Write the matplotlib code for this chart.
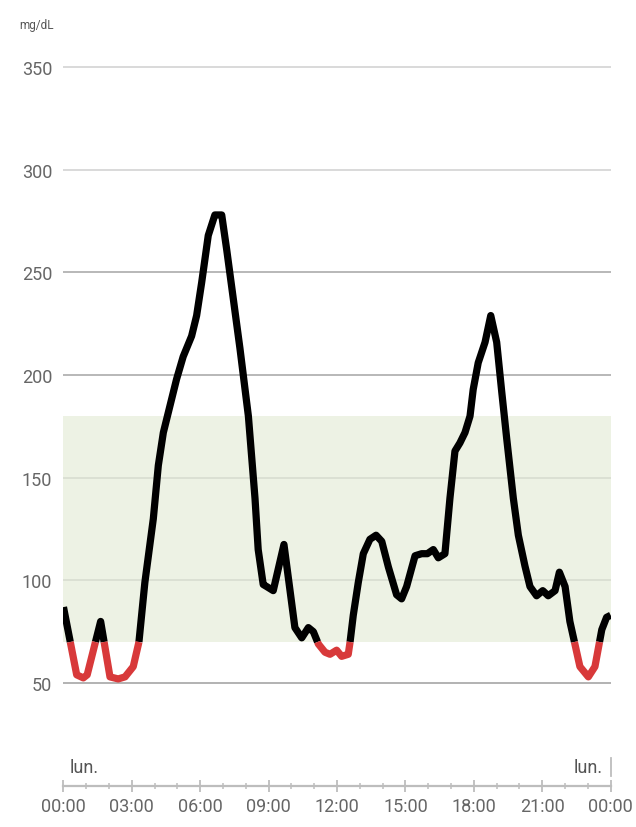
import numpy as np
import matplotlib
matplotlib.use("Agg")
import matplotlib.pyplot as plt

# glucose trace, hours since midnight and mg/dL
hours = [0.0, 0.58, 0.87, 1.04, 1.63, 2.04, 2.40, 2.70, 3.06, 3.31, 3.57, 3.94,
         4.16, 4.38, 4.67, 4.96, 5.25, 5.62, 5.84, 6.06, 6.35, 6.64, 6.94, 7.16,
         7.45, 7.74, 8.11, 8.40, 8.54, 8.76, 8.91, 9.20, 9.67, 10.15, 10.45, 10.74,
         10.96, 11.18, 11.47, 11.69, 11.98, 12.20, 12.49, 12.57, 12.71, 12.93, 13.15,
         13.44, 13.71, 13.96, 14.25, 14.61, 14.83, 15.05, 15.42, 15.71, 15.96, 16.22,
         16.44, 16.73, 16.95, 17.17, 17.39, 17.61, 17.83, 17.97, 18.19, 18.49, 18.74,
         19.00, 19.22, 19.44, 19.73, 19.95, 20.24, 20.46, 20.75, 21.02, 21.26, 21.56,
         21.75, 22.00, 22.21, 22.65, 23.02, 23.31, 23.61, 23.82, 24.0]
glucose = [87, 54, 52.5, 54, 80, 53, 52, 53, 58, 70, 99, 130,
           156, 172, 185, 198, 209, 219, 229, 245, 268, 278, 278, 261,
           237, 213, 180, 140, 115, 98, 97, 95, 117.5, 77, 72, 77,
           75, 69, 65, 64, 66, 63, 64, 70, 83, 99, 113,
           120, 122, 119, 106.5, 93, 91, 97, 112, 113, 113, 115,
           111, 113, 140, 163, 167, 172, 180, 193, 206, 216, 229,
           216, 192, 169, 140, 122, 107, 97, 92.5, 95, 92.5, 95,
           104, 97, 80, 58, 53, 58, 76, 82, 83]

target_low = 70
target_high = 180
grid_levels = [50, 100, 150, 200, 250, 300, 350]
grid_colors = ["#9e9e9e", "#d6dbcf", "#d6dbcf", "#a4a4a4", "#a4a4a4", "#cfcfcf", "#cfcfcf"]
major_ticks = [0, 3, 6, 9, 12, 15, 18, 21, 24]
major_labels = ["00:00", "03:00", "06:00", "09:00", "12:00", "15:00", "18:00", "21:00", "00:00"]
day_label = "lun."
unit_label = "mg/dL"

plt.rcParams["font.family"] = ["Roboto", "DejaVu Sans"]

# add crossing points at the low limit so the red part starts exactly at 70
x = np.array(hours, dtype=float)
y = np.array(glucose, dtype=float)
xs, ys = [x[0]], [y[0]]
for i in range(1, len(x)):
    a, b = y[i - 1], y[i]
    if (a - target_low) * (b - target_low) < 0:
        t = (target_low - a) / (b - a)
        xs.append(x[i - 1] + t * (x[i] - x[i - 1]))
        ys.append(target_low)
    xs.append(x[i])
    ys.append(y[i])
xs = np.array(xs)
ys = np.array(ys)
low = np.ma.masked_where(ys > target_low + 1e-9, ys)
high = np.ma.masked_where(ys < target_low - 1e-9, ys)

fig = plt.figure(figsize=(6.36, 8.28), dpi=100)
ax = fig.add_axes([0.0998, 0.0499, 0.8604, 0.9422])
ax.set_xlim(0, 24)
ax.set_ylim(0, 380)

ax.axhspan(target_low, target_high, color="#edf2e4", lw=0, zorder=0)
for lvl, c in zip(grid_levels, grid_colors):
    ax.axhline(lvl, color=c, lw=1.1, zorder=1)

ax.plot(xs, high, color="black", lw=5.2, solid_joinstyle="round", solid_capstyle="butt", zorder=3)
ax.plot(xs, low, color="#d8393a", lw=5.2, solid_joinstyle="round", solid_capstyle="butt", zorder=3)

for s in ["left", "right", "top"]:
    ax.spines[s].set_visible(False)
ax.spines["bottom"].set_color("#bdbdbd")
ax.spines["bottom"].set_linewidth(1.6)

ax.set_yticks(grid_levels)
ax.set_yticklabels([str(v) for v in grid_levels])
ax.tick_params(axis="y", length=0, pad=8, labelsize=13, labelcolor="#666666")

ax.set_xticks(major_ticks)
ax.set_xticklabels(major_labels)
ax.set_xticks(np.arange(0, 25, 1), minor=True)
ax.tick_params(axis="x", which="major", direction="inout", length=8, width=1.3,
               color="#bdbdbd", pad=4, labelsize=13, labelcolor="#666666")
ax.tick_params(axis="x", which="minor", direction="inout", length=5, width=1.1, color="#bdbdbd")

ax.text(0.29, 6.5, day_label, fontsize=13, color="#555555", ha="left", va="baseline")
ax.text(23.65, 6.5, day_label, fontsize=13, color="#555555", ha="right", va="baseline")
ax.plot([24, 24], [4.7, 13.5], color="#bdbdbd", lw=1.3, clip_on=False)

fig.text(0.058, 0.9686, unit_label, fontsize=8.5, color="#555555", ha="center", va="center")

fig.savefig("out.png", dpi=100)
